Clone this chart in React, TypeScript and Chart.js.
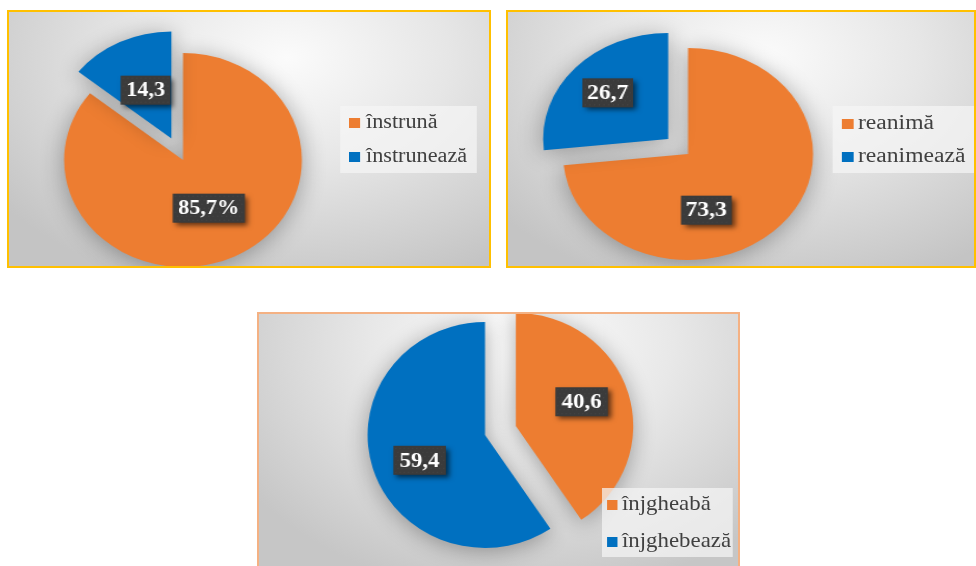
import React, { useEffect, useRef } from 'react';
import { Chart, PieController, ArcElement } from 'chart.js';

Chart.register(PieController, ArcElement);

// ---------- data ----------
const categories1 = ['înstrună', 'înstrunează'];
const values1 = [85.7, 14.3];
const suffix1 = ['%', ''];

const categories2 = ['reanimă', 'reanimează'];
const values2 = [73.3, 26.7];
const suffix2 = ['', ''];

const categories3 = ['înjgheabă', 'înjghebează'];
const values3 = [40.6, 59.4];
const suffix3 = ['', ''];

const sliceColors = ['#ED7D31', '#0070C0'];

const FONT = '"Liberation Serif", "Times New Roman", serif';

const fmt = (v: number) => v.toFixed(1).replace('.', ',');

type PanelCfg = {
  categories: string[];
  values: number[];
  suffix: string[];
  left: number; top: number; width: number; height: number;
  border: string; noBottom?: boolean;
  sx: number;
  center: [number, number];
  radius: number;
  explode: number[];
  labelFrac: number[];
  labelShift: number[];
  labelFont: number;
  labelPadX: number;
  legendBox: [number, number, number, number];
  squareX: number;
  textX: number;
  itemY: number[];
  legendFont: number;
  gradient: string;
};

const panels: PanelCfg[] = [
  {
    categories: categories1, values: values1, suffix: suffix1,
    left: 7, top: 10, width: 484, height: 258, border: '#FFC000',
    sx: 1.11, center: [183, 160], radius: 107,
    explode: [0, 24], labelFrac: [0.5, 0.5], labelShift: [0, 0],
    labelFont: 20, labelPadX: 5,
    legendBox: [340, 106, 477, 173], squareX: 349, textX: 366, itemY: [123, 157], legendFont: 20,
    gradient: 'radial-gradient(ellipse 75% 95% at 58% 18%, #fbfbfb 0%, #e6e6e6 45%, #c4c4c4 100%)',
  },
  {
    categories: categories2, values: values2, suffix: suffix2,
    left: 506, top: 10, width: 470, height: 258, border: '#FFC000',
    sx: 1.18, center: [688, 154], radius: 106,
    explode: [0, 22.6], labelFrac: [0.55, 0.65], labelShift: [32.6, 0],
    labelFont: 20, labelPadX: 4,
    legendBox: [832, 106, 974, 173], squareX: 842, textX: 858, itemY: [124, 157], legendFont: 20,
    gradient: 'radial-gradient(ellipse 75% 95% at 55% 18%, #fbfbfb 0%, #e6e6e6 45%, #c4c4c4 100%)',
  },
  {
    categories: categories3, values: values3, suffix: suffix3,
    left: 257, top: 312, width: 483, height: 254, border: '#F4B183', noBottom: true,
    sx: 1.04, center: [485, 435], radius: 113,
    explode: [31, 0], labelFrac: [0.6, 0.6], labelShift: [-4, -5],
    labelFont: 22, labelPadX: 6,
    legendBox: [602, 488, 733, 557], squareX: 607, textX: 622, itemY: [505, 542], legendFont: 22,
    gradient: 'radial-gradient(ellipse 70% 100% at 55% 12%, #fdfdfd 0%, #e8e8e8 45%, #c6c6c6 100%)',
  },
];

function makePlugins(cfg: PanelCfg) {
  const explodePlugin = {
    id: 'explodeShadow',
    beforeDatasetDraw(chart: any) {
      const meta = chart.getDatasetMeta(0);
      meta.data.forEach((el: any, i: number) => {
        const d = cfg.explode[i] || 0;
        el.draw = function (ctx: CanvasRenderingContext2D) {
          const half = (this.startAngle + this.endAngle) / 2;
          ctx.save();
          ctx.translate(Math.cos(half) * d, Math.sin(half) * d);
          ArcElement.prototype.draw.call(this, ctx);
          ctx.restore();
        };
      });
      const ctx = chart.ctx;
      ctx.save();
      ctx.shadowColor = 'rgba(0,0,0,0.33)';
      ctx.shadowBlur = 22;
      ctx.shadowOffsetY = 3;
    },
    afterDatasetDraw(chart: any) {
      chart.ctx.restore();
    },
  };

  const labelPlugin = {
    id: 'boxLabels',
    afterDatasetsDraw(chart: any) {
      const ctx: CanvasRenderingContext2D = chart.ctx;
      const meta = chart.getDatasetMeta(0);
      meta.data.forEach((el: any, i: number) => {
        const half = (el.startAngle + el.endAngle) / 2;
        const d = cfg.explode[i] || 0;
        const vx = el.x + Math.cos(half) * d;
        const vy = el.y + Math.sin(half) * d;
        const a = half + (cfg.labelShift[i] * Math.PI) / 180;
        const r = el.outerRadius * cfg.labelFrac[i];
        const px = vx + Math.cos(a) * r;
        const py = vy + Math.sin(a) * r;
        const text = fmt(cfg.values[i]) + cfg.suffix[i];
        ctx.save();
        ctx.font = `bold ${cfg.labelFont}px ${FONT}`;
        const tw = ctx.measureText(text).width;
        const bw = tw + cfg.labelPadX * 2;
        const bh = 29;
        const bx = px - bw / 2;
        const by = py - bh / 2;
        ctx.shadowColor = 'rgba(0,0,0,0.6)';
        ctx.shadowBlur = 5;
        ctx.shadowOffsetX = 3;
        ctx.shadowOffsetY = 3;
        ctx.fillStyle = '#3b3b3b';
        ctx.fillRect(bx, by, bw, bh);
        ctx.restore();
        ctx.save();
        ctx.fillStyle = '#4a4a4a';
        for (let yy = by + 2; yy < by + bh - 1; yy += 4) {
          for (let xx = bx + 2 + ((yy - by) % 8 === 2 ? 0 : 2); xx < bx + bw - 1; xx += 4) {
            ctx.fillRect(xx, yy, 1, 1);
          }
        }
        ctx.font = `bold ${cfg.labelFont}px ${FONT}`;
        ctx.fillStyle = '#ffffff';
        ctx.textAlign = 'center';
        ctx.textBaseline = 'middle';
        ctx.fillText(text, px, py + 1);
        ctx.restore();
      });
    },
  };
  return [explodePlugin, labelPlugin];
}

function PiePanel({ cfg }: { cfg: PanelCfg }) {
  const ref = useRef<HTMLCanvasElement>(null);
  const innerW = cfg.width - 4;
  const innerH = cfg.height - (cfg.noBottom ? 2 : 4);
  const cw = Math.round(innerW / cfg.sx);
  const sx = innerW / cw;
  const ch = innerH;
  const ox = cfg.left + 2;
  const oy = cfg.top + 2;
  const lx = (X: number) => (X - ox) / sx;
  const ly = (Y: number) => Y - oy;

  useEffect(() => {
    const cx = lx(cfg.center[0]);
    const cy = ly(cfg.center[1]);
    const pad = { left: 0, right: 0, top: 0, bottom: 0 };
    if (2 * cx <= cw) pad.right = cw - 2 * cx; else pad.left = 2 * cx - cw;
    if (2 * cy <= ch) pad.bottom = ch - 2 * cy; else pad.top = 2 * cy - ch;
    const chart = new Chart(ref.current as HTMLCanvasElement, {
      type: 'pie',
      data: {
        labels: cfg.categories,
        datasets: [
          {
            data: cfg.values,
            backgroundColor: sliceColors,
            borderWidth: 0,
            radius: cfg.radius,
            clip: false,
          } as any,
        ],
      },
      options: {
        responsive: false,
        animation: false,
        events: [],
        layout: { padding: pad },
        plugins: { legend: { display: false }, tooltip: { enabled: false } } as any,
      },
      plugins: makePlugins(cfg) as any,
    });
    return () => chart.destroy();
  }, []);

  const [bx0, by0, bx1, by1] = cfg.legendBox;
  const lineH = cfg.legendFont + 6;

  return (
    <div
      style={{
        position: 'absolute',
        left: cfg.left,
        top: cfg.top,
        width: cfg.width,
        height: cfg.height,
        boxSizing: 'border-box',
        border: `2px solid ${cfg.border}`,
        borderBottom: cfg.noBottom ? 'none' : `2px solid ${cfg.border}`,
        overflow: 'hidden',
      }}
    >
      <div
        style={{
          position: 'absolute',
          left: 0,
          top: 0,
          width: cw,
          height: ch,
          transform: `scaleX(${sx})`,
          transformOrigin: '0 0',
          background: cfg.gradient,
        }}
      >
        <canvas ref={ref} width={cw} height={ch} style={{ position: 'absolute', left: 0, top: 0, width: cw, height: ch }} />
        <div
          style={{
            position: 'absolute',
            left: lx(bx0),
            top: ly(by0),
            width: (bx1 - bx0) / sx,
            height: by1 - by0,
            background: 'rgba(245,245,245,0.72)',
          }}
        />
        {cfg.categories.map((c, i) => (
          <React.Fragment key={c}>
            <div
              style={{
                position: 'absolute',
                left: lx(cfg.squareX),
                top: ly(cfg.itemY[i]) - 5,
                width: 10,
                height: 10,
                background: sliceColors[i],
              }}
            />
            <div
              style={{
                position: 'absolute',
                left: lx(cfg.textX),
                top: ly(cfg.itemY[i]) - lineH / 2 - 2,
                height: lineH,
                lineHeight: `${lineH}px`,
                fontFamily: FONT,
                fontSize: cfg.legendFont,
                color: '#404040',
                whiteSpace: 'nowrap',
              }}
            >
              {c}
            </div>
          </React.Fragment>
        ))}
      </div>
    </div>
  );
}

export default function App() {
  return (
    <div style={{ position: 'fixed', inset: 0, overflow: 'hidden', background: '#ffffff' }}>
      {panels.map((p, i) => (
        <PiePanel key={i} cfg={p} />
      ))}
    </div>
  );
}
